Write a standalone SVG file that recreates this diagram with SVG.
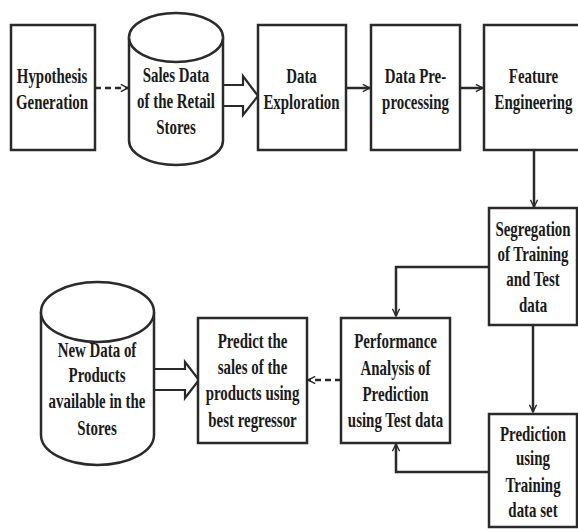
<svg xmlns="http://www.w3.org/2000/svg" width="578" height="529" viewBox="0 0 578 529">
<defs>
<marker id="arr" viewBox="0 0 10 10" refX="9" refY="5" markerWidth="9" markerHeight="9" markerUnits="userSpaceOnUse" orient="auto">
<path d="M1,1 L9,5 L1,9" fill="none" stroke="#2a2a2a" stroke-width="1.6"/>
</marker>
</defs>
<style>
.box{fill:#fff;stroke:#2a2a2a;stroke-width:2.5}
.cyl{fill:#fff;stroke:#2a2a2a;stroke-width:2.5}
.blk{fill:#fff;stroke:#2a2a2a;stroke-width:2.2;stroke-linejoin:miter}
.ln{fill:none;stroke:#2a2a2a;stroke-width:2.5;marker-end:url(#arr)}
.dash{fill:none;stroke:#2a2a2a;stroke-width:2.5;stroke-dasharray:6 4;marker-end:url(#arr)}
text{font-family:"Liberation Serif","Times New Roman",serif;font-weight:bold;font-size:21px;fill:#1a1a1a;text-anchor:middle}
</style>
<rect width="578" height="529" fill="#fff"/>

<g id="connectors">
<path class="dash" d="M95,88 H128"/>
<path class="blk" d="M223,85 H243 V76 L258,96 L243,115 V106 H223"/>
<path class="ln" d="M346,88 H370"/>
<path class="ln" d="M460,88 H483"/>
<path class="ln" d="M534,150 V207"/>
<path class="ln" d="M489,267 H396 V316"/>
<path class="ln" d="M533,325 V412"/>
<path class="ln" d="M489,472 H396 V444"/>
<path class="dash" d="M341,380 H308"/>
<path class="blk" d="M154,369 H185 V362 L199,380 L185,398 V390 H154"/>
</g>

<g id="hypothesis">
<rect class="box" x="11" y="25" width="84" height="125"/>
<g transform="translate(52,0) scale(0.71,1)">
<text x="0" y="83">Hypothesis</text>
<text x="0" y="109">Generation</text>
</g>
</g>

<g id="sales-data">
<path class="cyl" d="M129,37.5 V140.5 A47,24.5 0 0 0 223,140.5 V37.5 A47,24.5 0 0 0 129,37.5 Z"/>
<path class="cyl" d="M129,37.5 A47,24.5 0 0 0 223,37.5" fill="none"/>
<g transform="translate(176,0) scale(0.71,1)">
<text x="0" y="82">Sales Data</text>
<text x="0" y="108">of the Retail</text>
<text x="0" y="134">Stores</text>
</g>
</g>

<g id="data-exploration">
<rect class="box" x="258" y="25" width="88" height="125"/>
<g transform="translate(301.5,0) scale(0.71,1)">
<text x="0" y="83">Data</text>
<text x="0" y="109">Exploration</text>
</g>
</g>

<g id="data-preprocessing">
<rect class="box" x="371" y="25" width="89" height="125"/>
<g transform="translate(415.5,0) scale(0.71,1)">
<text x="0" y="83">Data Pre-</text>
<text x="0" y="109">processing</text>
</g>
</g>

<g id="feature-engineering">
<rect class="box" x="484" y="25" width="96" height="125"/>
<g transform="translate(533.5,0) scale(0.71,1)">
<text x="0" y="83">Feature</text>
<text x="0" y="109">Engineering</text>
</g>
</g>

<g id="segregation">
<rect class="box" x="489" y="208" width="88" height="117"/>
<g transform="translate(533,0) scale(0.71,1)">
<text x="0" y="236">Segregation</text>
<text x="0" y="261">of  Training</text>
<text x="0" y="286">and Test</text>
<text x="0" y="312">data</text>
</g>
</g>

<g id="prediction-training">
<rect class="box" x="489" y="414" width="88" height="113"/>
<g transform="translate(533,0) scale(0.71,1)">
<text x="0" y="441">Prediction</text>
<text x="0" y="465">using</text>
<text x="0" y="492">Training</text>
<text x="0" y="517">data set</text>
</g>
</g>

<g id="performance-analysis">
<rect class="box" x="341" y="318" width="109" height="125"/>
<g transform="translate(395.5,0) scale(0.71,1)">
<text x="0" y="348">Performance</text>
<text x="0" y="375">Analysis of</text>
<text x="0" y="401">Prediction</text>
<text x="0" y="427">using Test data</text>
</g>
</g>

<g id="predict-sales">
<rect class="box" x="198" y="318" width="109" height="125"/>
<g transform="translate(252.5,0) scale(0.71,1)">
<text x="0" y="348">Predict the</text>
<text x="0" y="374">sales of the</text>
<text x="0" y="400">products using</text>
<text x="0" y="427">best regressor</text>
</g>
</g>

<g id="new-data">
<path class="cyl" d="M41,312 V435 A56.5,30 0 0 0 154,435 V312 A56.5,30 0 0 0 41,312 Z"/>
<path class="cyl" d="M41,312 A56.5,30 0 0 0 154,312" fill="none"/>
<g transform="translate(97,0) scale(0.71,1)">
<text x="0" y="357">New Data of</text>
<text x="0" y="382">Products</text>
<text x="0" y="408">available in the</text>
<text x="0" y="435">Stores</text>
</g>
</g>
</svg>
